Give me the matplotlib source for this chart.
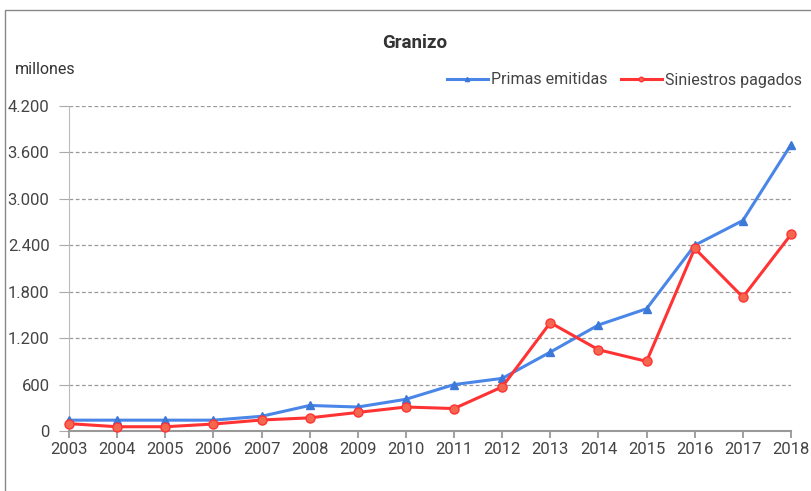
import matplotlib
matplotlib.use("Agg")
import matplotlib.pyplot as plt
from matplotlib.patches import Rectangle
from matplotlib.ticker import FuncFormatter

years = list(range(2003, 2019))
primas = [140, 140, 140, 140, 190, 330, 310, 410, 600, 680,
          1020, 1370, 1580, 2400, 2720, 3700]
siniestros = [95, 55, 55, 90, 142, 170, 240, 310, 290, 570,
              1400, 1050, 900, 2360, 1730, 2540]
yticks = [0, 600, 1200, 1800, 2400, 3000, 3600, 4200]

plt.rcParams['font.family'] = ['Roboto', 'DejaVu Sans']

fig = plt.figure(figsize=(8.11, 4.91), dpi=100)
ax = fig.add_axes([69 / 811, 1 - 431 / 491, (791 - 69) / 811, (431 - 106) / 491])

ax.plot(years, primas, color='#4a86e8', lw=2.2, marker='^', ms=6,
        mfc='#3c78d8', mec='#3c78d8', label='Primas emitidas', clip_on=False, zorder=3)
ax.plot(years, siniestros, color='#ff3333', lw=2.2, marker='o', ms=6.5,
        mfc='#f4674f', mec='#ff3333', label='Siniestros pagados', clip_on=False, zorder=4)

ax.set_xlim(2003, 2018)
ax.set_ylim(0, 4200)
ax.set_xticks(years)
ax.set_yticks(yticks)
ax.yaxis.set_major_formatter(FuncFormatter(lambda v, p: f"{int(v):,}".replace(",", ".")))

ax.grid(axis='y', color='#999999', ls=(0, (3, 2)), lw=0.9)
ax.set_axisbelow(True)
for s in ['top', 'right']:
    ax.spines[s].set_visible(False)
ax.spines['left'].set_color('#bbbbbb')
ax.spines['bottom'].set_color('#999999')
ax.spines['bottom'].set_linewidth(1.5)
ax.tick_params(axis='y', length=7, color='#aaaaaa', labelsize=12, labelcolor='#444444', pad=7)
ax.tick_params(axis='x', length=5, width=1.3, color='#999999', labelsize=12, labelcolor='#444444', pad=3)

fig.text(415 / 811, 1 - 43 / 491, 'Granizo', ha='center', va='center',
         fontsize=13.5, fontweight='bold', color='#333333')
fig.text(15 / 811, 1 - 70 / 491, 'millones', ha='left', va='center',
         fontsize=11.5, color='#333333')

fig.legend(loc='center right', bbox_to_anchor=(1.007, 1 - 80 / 491), ncol=2,
           frameon=False, fontsize=11.5, handlelength=2.6, handletextpad=0.2,
           columnspacing=0.8, markerscale=0.5, labelcolor='#444444')

fig.patches.append(Rectangle((5 / 811, -0.1), 1.2, 1 - 10 / 491 + 0.1,
                             transform=fig.transFigure, fill=False,
                             edgecolor='#888888', lw=1))

fig.savefig('out.png', dpi=100)
